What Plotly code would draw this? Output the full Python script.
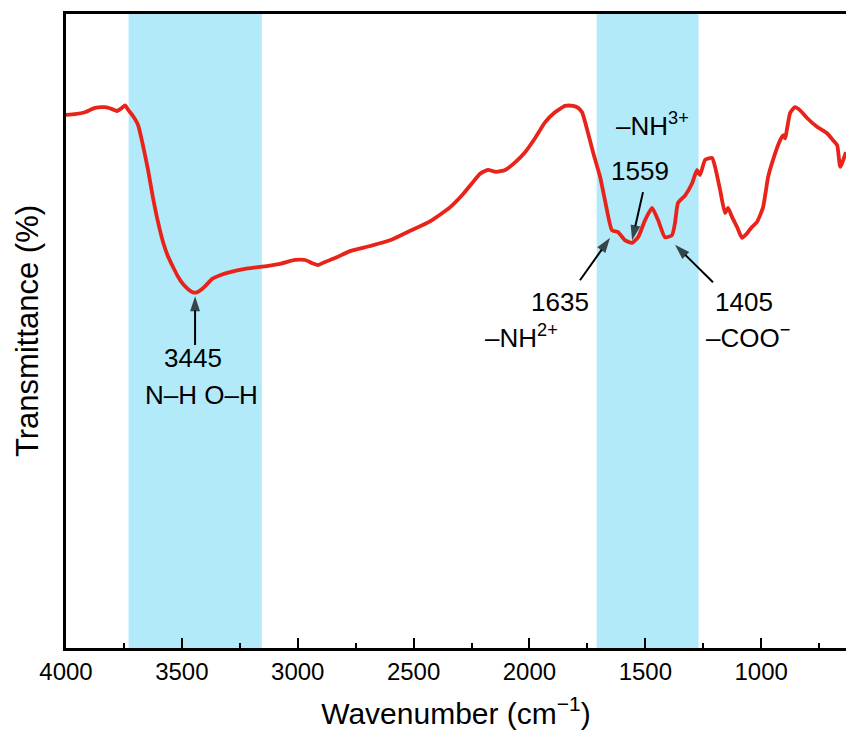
import plotly.graph_objects as go

# FTIR spectrum (wavenumber in cm^-1, transmittance in arbitrary %)
wavenumber = [4000, 3961, 3918, 3875, 3832, 3801, 3780, 3758, 3745, 3732, 3711, 3689, 3668, 3646,
              3625, 3603, 3581, 3560, 3538, 3517, 3495, 3473, 3452, 3435, 3417, 3396, 3370, 3335,
              3292, 3227, 3163, 3076, 3012, 2968, 2938, 2912, 2882, 2839, 2774, 2688, 2602, 2515,
              2429, 2343, 2291, 2248, 2213, 2179, 2144, 2105, 2062, 2019, 1976, 1933, 1890, 1846,
              1812, 1790, 1773, 1747, 1725, 1695, 1674, 1644, 1618, 1587, 1557, 1531, 1501, 1471,
              1445, 1415, 1385, 1372, 1359, 1328, 1298, 1277, 1264, 1242, 1212, 1199, 1177, 1156,
              1143, 1126, 1104, 1083, 1061, 1040, 1018, 992, 970, 949, 918, 905, 897, 875, 854,
              832, 802, 759, 716, 690, 672, 659, 634]
transmittance = [84.1, 84.2, 84.5, 85.2, 85.3, 85.0, 84.7, 85.2, 85.6, 84.9, 83.9, 82.5, 79.3, 75.4,
                 71.1, 67.2, 64.0, 61.8, 60.1, 58.6, 57.4, 56.6, 56.1, 56.1, 56.5, 57.2, 58.2, 58.8,
                 59.3, 59.8, 60.1, 60.6, 61.2, 61.2, 60.7, 60.4, 60.9, 61.5, 62.6, 63.4, 64.3, 65.8,
                 67.3, 69.5, 71.4, 73.3, 74.8, 75.4, 75.1, 75.4, 76.6, 78.2, 80.4, 82.9, 84.5, 85.5,
                 85.5, 85.2, 84.5, 81.2, 78.1, 74.3, 70.6, 65.9, 65.6, 64.3, 63.9, 64.8, 67.5, 69.4,
                 67.5, 64.8, 65.1, 67.0, 70.2, 71.4, 73.3, 75.4, 74.6, 77.0, 77.3, 75.9, 72.2, 68.6,
                 69.4, 68.0, 66.4, 64.7, 65.4, 66.4, 67.2, 69.5, 74.3, 77.0, 80.1, 80.9, 80.4, 84.4,
                 85.3, 84.8, 83.6, 82.2, 81.2, 80.1, 79.3, 75.9, 78.2]

# highlighted bands (cm^-1)
band_starts = [3730, 1710]
band_ends = [3155, 1270]

# peak-marking arrows: head (x, y) and tail (x, y)
arrow_head_x = [3443, 1557, 1652, 1372]
arrow_head_y = [55.5, 64.3, 64.7, 63.6]
arrow_tail_x = [3443, 1510, 1782, 1208]
arrow_tail_y = [47.8, 71.9, 58.0, 57.7]

# peak labels
label_x = [3452, 3417, 1523, 1467, 1868, 2036, 1074, 1057]
label_y = [45.7, 39.9, 75.2, 82.6, 54.6, 49.2, 54.6, 49.2]
label_text = ["3445", "N–H O–H", "1559", "–NH<sup>3+</sup>", "1635", "–NH<sup>2+</sup>",
              "1405", "–COO<sup>−</sup>"]

tick_vals = [4000, 3500, 3000, 2500, 2000, 1500, 1000]
tick_text = ["4000", "3500", "3000", "2500", "2000", "1500", "1000"]

FONT = "Liberation Sans, Arial, sans-serif"
RED = "#e8231a"
BLUE = "#b3eafa"

fig = go.Figure()
fig.add_trace(go.Scatter(x=wavenumber, y=transmittance, mode="lines",
                         line=dict(color=RED, width=3.8, shape="spline", smoothing=0.5),
                         hoverinfo="skip", showlegend=False))

for s, e in zip(band_starts, band_ends):
    fig.add_shape(type="rect", xref="x", yref="paper", x0=s, x1=e, y0=0, y1=1,
                  fillcolor=BLUE, line=dict(width=0), layer="below")

for hx, hy, tx, ty in zip(arrow_head_x, arrow_head_y, arrow_tail_x, arrow_tail_y):
    fig.add_trace(go.Scatter(x=[tx, hx], y=[ty, hy], mode="lines+markers",
                             line=dict(color="black", width=2),
                             marker=dict(symbol="arrow", size=[0, 16], angleref="previous",
                                         color="black", line=dict(width=0)),
                             hoverinfo="skip", showlegend=False))

for lx, ly, t in zip(label_x, label_y, label_text):
    fig.add_annotation(x=lx, y=ly, xref="x", yref="y", text=t, showarrow=False,
                       font=dict(family=FONT, size=26, color="black"))

fig.update_layout(
    width=846, height=736,
    margin=dict(l=66, r=0, t=14, b=88),
    paper_bgcolor="white", plot_bgcolor="white",
    font=dict(family=FONT, color="black"),
    xaxis=dict(range=[4000, 634], tickvals=tick_vals, ticktext=tick_text,
               ticks="inside", ticklen=10, tickwidth=2, tickcolor="black",
               minor=dict(dtick=250, tick0=0, ticks="inside", ticklen=5, tickwidth=2,
                          tickcolor="black", showgrid=False),
               showline=True, linecolor="black", linewidth=2.5, mirror=True,
               showgrid=False, zeroline=False,
               tickfont=dict(family=FONT, size=24),
               title=dict(text="Wavenumber (cm<sup>−1</sup>)", font=dict(family=FONT, size=30),
                          standoff=20)),
    yaxis=dict(range=[0, 100], showticklabels=False, ticks="", showline=True,
               linecolor="black", linewidth=2.5, mirror=False, showgrid=False, zeroline=False,
               title=dict(text="Transmittance (%)", font=dict(family=FONT, size=31), standoff=16)),
)

fig.write_html("out.html")
